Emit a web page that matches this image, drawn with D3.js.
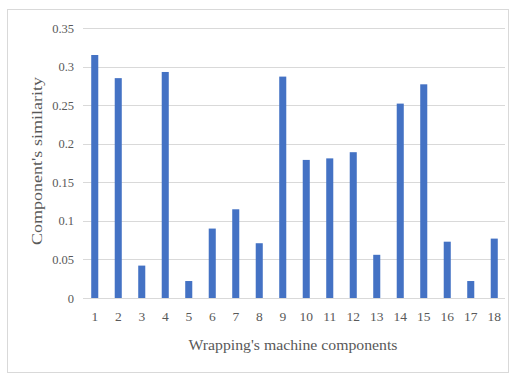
<!DOCTYPE html>
<html><head><meta charset="utf-8">
<script src="https://cdn.jsdelivr.net/npm/d3@7"></script>
<style>body{margin:0;background:#fff}svg{display:block}</style>
</head><body>
<svg id="c" width="512" height="374"></svg>
<script>
const categories = ["1","2","3","4","5","6","7","8","9","10","11","12","13","14","15","16","17","18"];
const values = [0.315,0.285,0.042,0.293,0.022,0.09,0.115,0.071,0.287,0.179,0.181,0.189,0.056,0.252,0.277,0.073,0.022,0.077];
const yTicks = [0,0.05,0.1,0.15,0.2,0.25,0.3,0.35];
const yTickLabels = ["0","0.05","0.1","0.15","0.2","0.25","0.3","0.35"];
const xTitle = "Wrapping's machine components";
const yTitle = "Component's similarity";

const svg = d3.select("#c");
svg.append("rect").attr("x",7.5).attr("y",9.5).attr("width",501).attr("height",363)
  .attr("fill","#fff").attr("stroke","#d9d9d9");

const x = d3.scaleBand().domain(categories).range([83,506]).paddingInner(0.7).paddingOuter(0.35);
const y = d3.scaleLinear().domain([0,0.35]).range([298,28]);

const grid = svg.append("g");
grid.selectAll("line").data(yTicks).join("line")
  .attr("x1",83).attr("x2",505)
  .attr("y1",d=>Math.round(y(d))+0.5).attr("y2",d=>Math.round(y(d))+0.5)
  .attr("stroke","#d9d9d9").attr("stroke-width",1);

const yAxis = d3.axisLeft(y).tickValues(yTicks).tickFormat((d,i)=>yTickLabels[i]).tickSize(0).tickPadding(9);
const ga = svg.append("g").attr("transform","translate(83,0)").call(yAxis);
ga.select(".domain").remove();
ga.selectAll("text").attr("font-family","Liberation Serif").attr("font-size",12.5).attr("fill","#595959");

svg.append("g").selectAll("rect").data(values).join("rect")
  .attr("x",(d,i)=>x(categories[i]))
  .attr("width",x.bandwidth())
  .attr("y",d=>y(d))
  .attr("height",d=>y(0)-y(d))
  .attr("fill","#4472C4");

const xAxis = d3.axisBottom(x).tickSize(0).tickPadding(13);
const gx = svg.append("g").attr("transform","translate(0,298)").call(xAxis);
gx.select(".domain").remove();
gx.selectAll("text").attr("font-family","Liberation Serif").attr("font-size",13.5).attr("fill","#595959");

svg.append("text").attr("x",293).attr("y",350).attr("text-anchor","middle")
  .attr("font-family","Liberation Serif").attr("font-size",15).attr("fill","#595959")
  .attr("textLength",209).attr("lengthAdjust","spacingAndGlyphs").text(xTitle);
svg.append("text").attr("transform","translate(42,161) rotate(-90)").attr("text-anchor","middle")
  .attr("font-family","Liberation Serif").attr("font-size",15).attr("fill","#595959")
  .attr("textLength",168).attr("lengthAdjust","spacingAndGlyphs").text(yTitle);
</script>
</body></html>
